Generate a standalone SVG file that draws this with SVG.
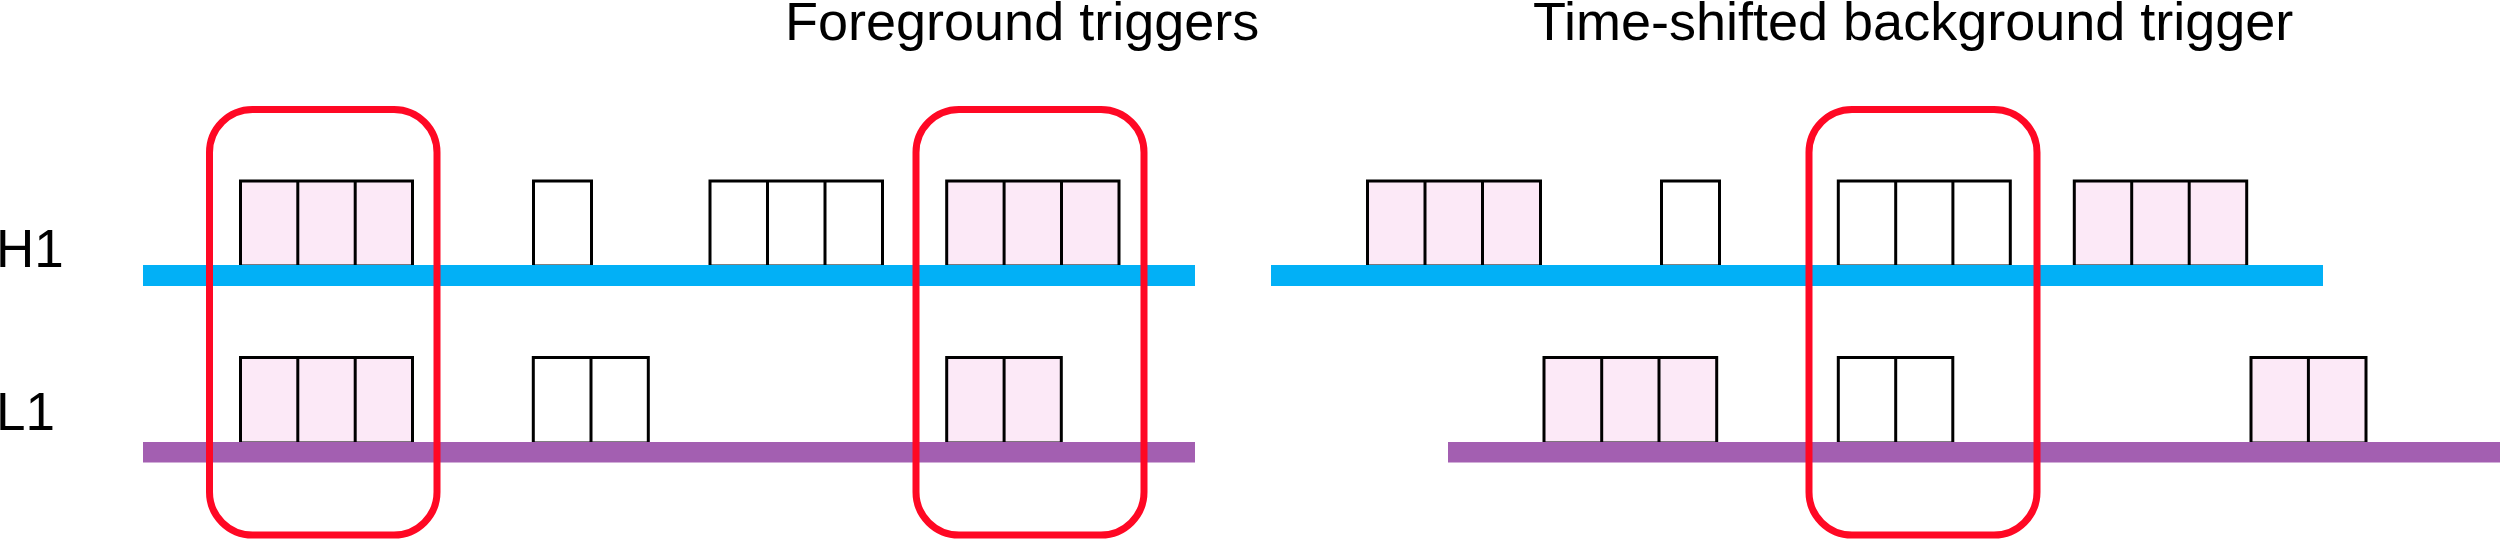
<svg xmlns="http://www.w3.org/2000/svg" width="2500" height="539" viewBox="0 0 2500 539">
  <defs>
    <style>
      .lbl { font-family: "Liberation Sans", Arial, Helvetica, sans-serif; fill: #000; }
      .title { font-size: 54px; }
      .det { font-size: 53px; }
      .on { fill: #FCE9F7; stroke: #000; stroke-width: 3; }
      .off { fill: #FFFFFF; stroke: #000; stroke-width: 3; }
      .cell { stroke: #000; stroke-width: 3; }
      .h1bar { fill: #02B0F6; }
      .l1bar { fill: #A35FB1; }
      .hl { fill: none; stroke: #FF0824; stroke-width: 7; }
    </style>
  </defs>
  <rect width="2500" height="539" fill="#FFFFFF"/>

  <!-- Titles and detector labels -->
  <g id="labels">
    <text class="lbl title" x="785" y="40">Foreground triggers</text>
    <text class="lbl title" x="1533" y="40">Time-shifted background trigger</text>
    <text class="lbl det" x="-4" y="266.5">H1</text>
    <text class="lbl det" x="-4" y="430">L1</text>
  </g>

  <!-- H1 boxes -->
  <g id="h1-left-a">
    <rect class="on" x="240.5" y="181" width="172" height="85"/>
    <line class="cell" x1="297.8" y1="181" x2="297.8" y2="266"/>
    <line class="cell" x1="355.2" y1="181" x2="355.2" y2="266"/>
  </g>
  <g id="h1-left-b">
    <rect class="off" x="533.5" y="181" width="58" height="85"/>
  </g>
  <g id="h1-left-c">
    <rect class="off" x="710" y="181" width="172.5" height="85"/>
    <line class="cell" x1="767.5" y1="181" x2="767.5" y2="266"/>
    <line class="cell" x1="825" y1="181" x2="825" y2="266"/>
  </g>
  <g id="h1-left-d">
    <rect class="on" x="946.7" y="181" width="172.3" height="85"/>
    <line class="cell" x1="1004.1" y1="181" x2="1004.1" y2="266"/>
    <line class="cell" x1="1061.5" y1="181" x2="1061.5" y2="266"/>
  </g>
  <g id="h1-right-a">
    <rect class="on" x="1367.5" y="181" width="173" height="85"/>
    <line class="cell" x1="1425" y1="181" x2="1425" y2="266"/>
    <line class="cell" x1="1482.5" y1="181" x2="1482.5" y2="266"/>
  </g>
  <g id="h1-right-b">
    <rect class="off" x="1661.5" y="181" width="58" height="85"/>
  </g>
  <g id="h1-right-c">
    <rect class="off" x="1838.3" y="181" width="172" height="85"/>
    <line class="cell" x1="1895.7" y1="181" x2="1895.7" y2="266"/>
    <line class="cell" x1="1952.9" y1="181" x2="1952.9" y2="266"/>
  </g>
  <g id="h1-right-d">
    <rect class="on" x="2074.3" y="181" width="172.4" height="85"/>
    <line class="cell" x1="2131.7" y1="181" x2="2131.7" y2="266"/>
    <line class="cell" x1="2189.2" y1="181" x2="2189.2" y2="266"/>
  </g>

  <!-- L1 boxes -->
  <g id="l1-left-a">
    <rect class="on" x="240.5" y="357.5" width="172" height="85.5"/>
    <line class="cell" x1="297.8" y1="357.5" x2="297.8" y2="443"/>
    <line class="cell" x1="355.2" y1="357.5" x2="355.2" y2="443"/>
  </g>
  <g id="l1-left-b">
    <rect class="off" x="533.3" y="357.5" width="115" height="85.5"/>
    <line class="cell" x1="591" y1="357.5" x2="591" y2="443"/>
  </g>
  <g id="l1-left-c">
    <rect class="on" x="946.7" y="357.5" width="114.6" height="85.5"/>
    <line class="cell" x1="1004.1" y1="357.5" x2="1004.1" y2="443"/>
  </g>
  <g id="l1-right-a">
    <rect class="on" x="1544" y="357.5" width="172.7" height="85.5"/>
    <line class="cell" x1="1601.7" y1="357.5" x2="1601.7" y2="443"/>
    <line class="cell" x1="1659" y1="357.5" x2="1659" y2="443"/>
  </g>
  <g id="l1-right-b">
    <rect class="off" x="1838.3" y="357.5" width="114.5" height="85.5"/>
    <line class="cell" x1="1895.7" y1="357.5" x2="1895.7" y2="443"/>
  </g>
  <g id="l1-right-c">
    <rect class="on" x="2251" y="357.5" width="115" height="85.5"/>
    <line class="cell" x1="2308.4" y1="357.5" x2="2308.4" y2="443"/>
  </g>

  <!-- Detector time-lines -->
  <g id="connectors">
    <rect class="h1bar" x="143" y="265" width="1052" height="21"/>
    <rect class="h1bar" x="1271" y="265" width="1052" height="21"/>
    <rect class="l1bar" x="143" y="442" width="1052" height="20.5"/>
    <rect class="l1bar" x="1448" y="442" width="1052" height="20.5"/>
  </g>

  <!-- Coincidence highlights -->
  <g id="highlight-1"><rect class="hl" x="209.5" y="109.5" width="227.5" height="425.5" rx="43" ry="43"/></g>
  <g id="highlight-2"><rect class="hl" x="916" y="109.5" width="228" height="425.5" rx="43" ry="43"/></g>
  <g id="highlight-3"><rect class="hl" x="1809" y="109.5" width="228" height="425.5" rx="43" ry="43"/></g>
</svg>
